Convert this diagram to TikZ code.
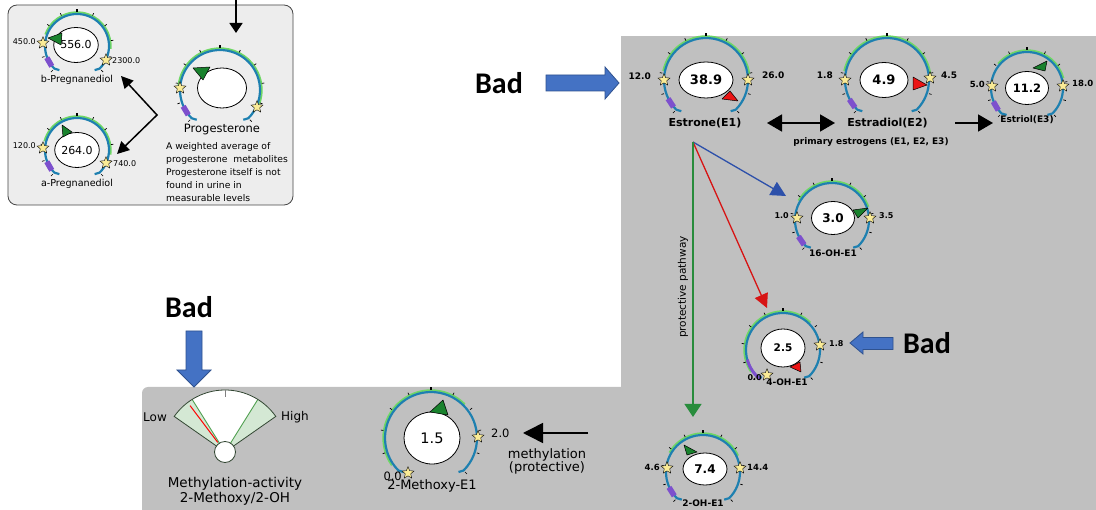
\documentclass[tikz,border=0pt]{standalone}
\usepackage{fontspec}
\setmainfont{DejaVu Sans}
\newfontfamily\badfont{Carlito}
\usetikzlibrary{arrows.meta,shapes.geometric}
\newcommand\fsz[1]{\fontsize{#1}{#1}\selectfont}
\definecolor{ringblue}{RGB}{30,128,176}
\definecolor{glowgreen}{RGB}{110,215,100}
\definecolor{purpblk}{RGB}{125,80,205}
\definecolor{staryellow}{RGB}{250,235,150}
\definecolor{markgreen}{RGB}{25,130,45}
\definecolor{markred}{RGB}{235,20,20}
\definecolor{panelgrey}{RGB}{192,192,192}
\definecolor{boxgrey}{RGB}{237,237,237}
\definecolor{boxedge}{RGB}{70,70,70}
\definecolor{badblue}{RGB}{68,114,196}
\definecolor{badedge}{RGB}{47,82,143}
\definecolor{pathblue}{RGB}{45,80,170}
\definecolor{pathred}{RGB}{215,20,20}
\definecolor{pathgreen}{RGB}{40,140,60}
\definecolor{fangreen}{RGB}{212,232,212}
\definecolor{fanline}{RGB}{80,160,80}
\definecolor{fanedge}{RGB}{50,70,50}

\tikzset{
  ringline/.style={draw=ringblue, line width=2.2, line join=round},
  glow/.style={draw=glowgreen, line width=1.8},
  tickm/.style={draw=black, line width=0.7},
  bubble/.style={ellipse, draw=black, line width=0.8, fill=white, inner sep=0},
  starm/.style={star, star points=5, star point ratio=2.2, draw=black, line width=0.4,
                fill=staryellow, minimum size=12.5, inner sep=0},
  gmark/.style={fill=markgreen, draw=black, line width=0.5, line join=round},
  rmark/.style={fill=markred, draw=black, line width=0.5, line join=round},
  blk/.style={draw=black, line width=1.5},
  lbl/.style={inner sep=1},
  badtxt/.style={font=\badfont\bfseries\fsz{30}},
  badarrow/.style={fill=badblue, draw=badedge, line width=0.8},
}

% dial ring: centre x, centre y, radius, glow start angle, glow end angle
\newcommand\dialring[5]{%
  \begin{scope}[shift={(#1,#2)}]
    \draw[glow] ({#4}:{#3+1.8}) arc[start angle=#4, end angle=#5, radius=#3+1.8];
    \draw[ringline] ([shift={(5,-1.5)}]225:#3) -- (225:#3)
      arc[start angle=225, end angle=-45, radius=#3] -- ++(-5,-1.5);
    \foreach \a in {225,198,...,-45}
      \draw[tickm] ({\a}:{#3+2.2}) -- ({\a}:{#3+4.8});
    \draw[line width=2] (90:{#3+2}) -- (90:{#3+5});
  \end{scope}}
% small block on a dial ring: centre x, centre y, radius, angle
\newcommand\dialblock[4]{%
  \begin{scope}[shift={(#1,#2)}, rotate=#4]
    \fill[purpblk] ({#3-2.8},-5) rectangle ({#3+2.8},5);
  \end{scope}}

\begin{document}
\begin{tikzpicture}[x=1pt,y=1pt]
\useasboundingbox (0,0) rectangle (1096,-510);
\fill[white] (0,0) rectangle (1096,-510);

% grey panels
\fill[panelgrey, rounded corners=6] (142,-387) rectangle (700,-540);
\fill[panelgrey] (621,-36) rectangle (1096,-510);
\filldraw[fill=boxgrey, draw=boxedge, line width=0.8, rounded corners=9] (8,-5) rectangle (293,-205);

% ---------- progesterone metabolites ----------
\dialring{77}{-46}{32}{160}{-5}
\dialblock{77}{-46}{32}{210}
\node[bubble, minimum width=41, minimum height=35, font=\fsz{11}] (bp-val) at (76,-45) {556.0};
\filldraw[gmark] (48,-38) -- (62,-33) -- (61,-45) -- cycle;
\node[starm] (bp-lo) at (43,-43) {};
\node[starm] (bp-hi) at (106,-60) {};
\node[lbl, font=\fsz{8}, anchor=east] (bp-lo-t) at (37,-42) {450.0};
\node[lbl, font=\fsz{8}, anchor=west] (bp-hi-t) at (111,-61) {2300.0};
\node[font=\fsz{9.6}] (bp-name) at (77,-80) {b-Pregnanediol};

\dialring{77}{-150}{32}{165}{-8}
\dialblock{77}{-150}{32}{210}
\node[bubble, minimum width=41, minimum height=35, font=\fsz{11}] (ap-val) at (77,-150) {264.0};
\filldraw[gmark] (62,-125) -- (63,-137) -- (72,-132) -- cycle;
\node[starm] (ap-lo) at (43,-148) {};
\node[starm] (ap-hi) at (106,-163) {};
\node[lbl, font=\fsz{8}, anchor=east] (ap-lo-t) at (37,-146) {120.0};
\node[lbl, font=\fsz{8}, anchor=west] (ap-hi-t) at (112,-164) {740.0};
\node[font=\fsz{9.6}] (ap-name) at (77,-184) {a-Pregnanediol};

\dialring{220}{-90}{40}{175}{-20}
\dialblock{220}{-90}{40}{211}
\node[bubble, minimum width=49, minimum height=40] (pg-val) at (222,-88) {};
\filldraw[gmark] (193,-68) -- (210,-67) -- (203,-80) -- cycle;
\node[starm] (pg-lo) at (180,-88) {};
\node[starm] (pg-hi) at (257,-107) {};
\node[font=\fsz{11.5}] (pg-name) at (222,-130) {Progesterone};
\node[lbl, font=\fsz{9.2}, anchor=base west] (pg-d1) at (165,-149.5) {A weighted average of};
\node[lbl, font=\fsz{9.2}, anchor=base west] (pg-d2) at (165,-162.5) {progesterone\ \ metabolites};
\node[lbl, font=\fsz{9.2}, anchor=base west] (pg-d3) at (165,-175.5) {Progesterone itself is not};
\node[lbl, font=\fsz{9.2}, anchor=base west] (pg-d4) at (165,-188.5) {found in urine in};
\node[lbl, font=\fsz{9.2}, anchor=base west] (pg-d5) at (165,-202) {measurable levels};

\coordinate (in-top) at (236,0);
\coordinate (in-tip) at (236,-33);
\draw[blk, -{Triangle[length=10,width=13]}] (in-top) -- (in-tip);
\coordinate (pv) at (157,-115);
\coordinate (bp-in) at (121,-76);
\coordinate (ap-in) at (117,-154);
\draw[blk, {Triangle[length=12,width=12]}-{Triangle[length=12,width=12]}] (bp-in) -- (pv) -- (ap-in);

% ---------- "Bad" callouts ----------
\node[badtxt] (bad1) at (499,-83) {Bad};
\filldraw[badarrow] (546,-75) -- (605,-75) -- (605,-67) -- (619,-83) -- (605,-99) -- (605,-91) -- (546,-91) -- cycle;
\node[badtxt] (bad2) at (189,-307) {Bad};
\filldraw[badarrow] (186,-331) -- (202,-331) -- (202,-370) -- (211,-370) -- (194,-387) -- (177,-370) -- (186,-370) -- cycle;
\node[badtxt] (bad3) at (927,-343) {Bad};
\filldraw[badarrow] (893,-337.5) -- (863,-337.5) -- (863,-332) -- (850,-343) -- (863,-354) -- (863,-349.5) -- (893,-349.5) -- cycle;

% ---------- primary estrogens ----------
\dialring{706}{-80}{42}{168}{8}
\dialblock{706}{-80}{42}{213}
\node[bubble, minimum width=54, minimum height=36, font=\bfseries\fsz{13}] (e1-val) at (706,-80) {38.9};
\filldraw[rmark] (730,-91) -- (722,-99) -- (738,-101) -- cycle;
\node[starm] (e1-lo) at (664,-80) {};
\node[starm] (e1-hi) at (748,-80) {};
\node[lbl, font=\bfseries\fsz{9}, anchor=east] (e1-lo-t) at (652,-76) {12.0};
\node[lbl, font=\bfseries\fsz{9}, anchor=west] (e1-hi-t) at (761,-75) {26.0};
\node[font=\bfseries\fsz{11}] (e1-name) at (705,-123) {Estrone(E1)};

\dialring{887}{-80}{42}{168}{5}
\dialblock{887}{-80}{42}{214}
\node[bubble, minimum width=48, minimum height=35, font=\bfseries\fsz{13}] (e2-val) at (884,-80) {4.9};
\filldraw[rmark] (913,-77) -- (913,-90) -- (927,-85) -- cycle;
\node[starm] (e2-lo) at (845,-80) {};
\node[starm] (e2-hi) at (930,-78) {};
\node[lbl, font=\bfseries\fsz{9}, anchor=east] (e2-lo-t) at (834,-75) {1.8};
\node[lbl, font=\bfseries\fsz{9}, anchor=west] (e2-hi-t) at (940,-75) {4.5};
\node[font=\bfseries\fsz{11}] (e2-name) at (887.5,-123) {Estradiol(E2)};

\dialring{1027}{-88}{36}{140}{15}
\dialblock{1027}{-88}{36}{210}
\node[bubble, minimum width=43, minimum height=33, font=\bfseries\fsz{11.5}] (e3-val) at (1027,-88) {11.2};
\filldraw[gmark] (1033,-68) -- (1047,-61) -- (1045,-71) -- cycle;
\node[starm] (e3-lo) at (992,-86) {};
\node[starm] (e3-hi) at (1063,-86) {};
\node[lbl, font=\bfseries\fsz{8.5}, anchor=east] (e3-lo-t) at (986,-84) {5.0};
\node[lbl, font=\bfseries\fsz{8.5}, anchor=west] (e3-hi-t) at (1071,-83) {18.0};
\node[font=\bfseries\fsz{9}] (e3-name) at (1027,-120) {Estriol(E3)};

\coordinate (e12a) at (767,-123);
\coordinate (e12b) at (835,-123);
\draw[blk, line width=1.7, {Triangle[length=15,width=17]}-{Triangle[length=15,width=17]}] (e12a) -- (e12b);
\coordinate (e23a) at (955,-123);
\coordinate (e23b) at (993,-123);
\draw[blk, line width=1.7, -{Triangle[length=15,width=17]}] (e23a) -- (e23b);
\node[font=\bfseries\fsz{9}] (prim) at (871,-142) {primary estrogens (E1, E2, E3)};

% ---------- hydroxylated metabolites ----------
\dialring{832}{-220}{37}{150}{20}
\dialblock{832}{-220}{37}{214}
\node[bubble, minimum width=43, minimum height=33, font=\bfseries\fsz{12}] (h16-val) at (833,-218) {3.0};
\filldraw[gmark] (853,-210) -- (868,-208) -- (858,-218) -- cycle;
\node[starm] (h16-lo) at (797,-218) {};
\node[starm] (h16-hi) at (870,-218) {};
\node[lbl, font=\bfseries\fsz{8}, anchor=east] (h16-lo-t) at (790,-216) {1.0};
\node[lbl, font=\bfseries\fsz{8}, anchor=west] (h16-hi-t) at (878,-216) {3.5};
\node[font=\bfseries\fsz{9}] (h16-name) at (833,-253) {16-OH-E1};

\dialring{783}{-350}{37}{215}{45}
\draw[purpblk, line width=3] (783,-350) ++(195:37) arc[start angle=195, end angle=232, radius=37];
\node[bubble, minimum width=44, minimum height=38, font=\bfseries\fsz{10.5}] (h4-val) at (783,-348) {2.5};
\filldraw[rmark] (790,-367) -- (800,-362) -- (801,-372) -- cycle;
\node[starm] (h4-hi) at (820,-345) {};
\node[starm] (h4-lo) at (767,-375) {};
\node[lbl, font=\bfseries\fsz{8}, anchor=west] (h4-hi-t) at (828,-344) {1.8};
\node[lbl, font=\bfseries\fsz{8}, anchor=east] (h4-lo-t) at (763,-378) {0.0};
\node[font=\bfseries\fsz{9}] (h4-name) at (787,-382) {4-OH-E1};

\dialring{703}{-472}{37}{150}{25}
\dialblock{703}{-472}{37}{212}
\node[bubble, minimum width=44, minimum height=32, font=\bfseries\fsz{12}] (h2-val) at (705,-469) {7.4};
\filldraw[gmark] (684,-445) -- (687,-455) -- (697,-452) -- cycle;
\node[starm] (h2-lo) at (667,-468) {};
\node[starm] (h2-hi) at (740,-468) {};
\node[lbl, font=\bfseries\fsz{8.5}, anchor=east] (h2-lo-t) at (661,-467) {4.6};
\node[lbl, font=\bfseries\fsz{8.5}, anchor=west] (h2-hi-t) at (746,-467) {14.4};
\node[font=\bfseries\fsz{9}] (h2-name) at (703,-503) {2-OH-E1};

\coordinate (e1-src) at (693,-142);
\coordinate (to16) at (786,-196);
\coordinate (to4) at (767,-308);
\coordinate (to2) at (693,-417);
\draw[pathblue, line width=1.3, -{Triangle[length=15,width=15]}] (e1-src) -- (to16);
\draw[pathred, line width=1.3, -{Triangle[length=14,width=14]}] (e1-src) -- (to4);
\draw[pathgreen, line width=1.3, -{Triangle[length=13,width=17]}] (e1-src) -- (to2);
\node[rotate=90, font=\fsz{10.5}] (prot) at (683,-287) {protective pathway};

% ---------- methylation ----------
\dialring{431}{-438}{46}{215}{45}
\node[bubble, minimum width=56, minimum height=52, font=\fsz{14.5}] (mx-val) at (432,-438) {1.5};
\filldraw[gmark] (430,-412) -- (443,-400) -- (448,-415) -- cycle;
\node[starm] (mx-hi) at (478,-437) {};
\node[starm] (mx-lo) at (408,-473) {};
\node[lbl, font=\fsz{11.5}, anchor=west] (mx-hi-t) at (490,-433) {2.0};
\node[lbl, font=\fsz{11.5}, anchor=east] (mx-lo-t) at (403,-476) {0.0};
\node[font=\fsz{13}] (mx-name) at (432,-486) {2-Methoxy-E1};

\coordinate (mt-a) at (588,-433);
\coordinate (mt-b) at (523,-433);
\draw[blk, -{Triangle[length=20,width=20]}] (mt-a) -- (mt-b);
\node[font=\fontsize{13}{13}\selectfont, align=center] (mt-lbl) at (547,-461) {methylation\\(protective)};

% activity fan
\coordinate (fp) at (225,-452);
\fill[white] (fp) -- ++(35:62) arc[start angle=35, end angle=145, radius=62] -- cycle;
\fill[fangreen] (fp) -- ++(35:62) arc[start angle=35, end angle=58, radius=62] -- cycle;
\fill[fangreen] (fp) -- ++(122:62) arc[start angle=122, end angle=145, radius=62] -- cycle;
\draw[fanline, line width=0.9] (fp) -- ++(58:62);
\draw[fanline, line width=0.9] (fp) -- ++(122:62);
\draw[fanedge, line width=0.8] (fp) -- ++(35:62) arc[start angle=35, end angle=145, radius=62] -- cycle;
\draw[gray, line width=0.8] (fp) ++(90:62) -- ++(0,-7);
\draw[red, line width=1] (fp) ++(127:12) -- ++(127:46);
\node[circle, draw=fanedge, line width=0.8, fill=white, minimum size=21, inner sep=0] (fpiv) at (fp) {};
\node[font=\fsz{12}] (fan-lo) at (155,-417) {Low};
\node[font=\fsz{12}] (fan-hi) at (295,-417) {High};
\node[font=\fontsize{13.5}{15}\selectfont, align=center] (fan-name) at (235,-491) {Methylation-activity\\2-Methoxy/2-OH};
\end{tikzpicture}
\end{document}
